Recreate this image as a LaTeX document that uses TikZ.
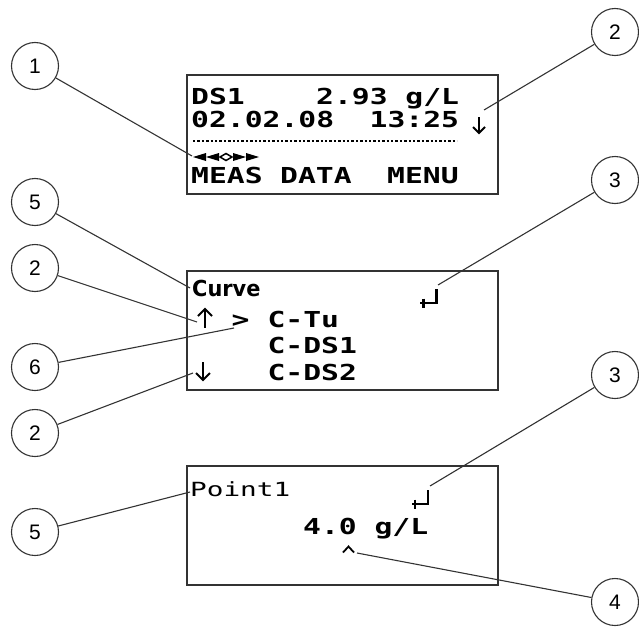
\documentclass[tikz,border=0pt]{standalone}
\usepackage{fontspec}
\setmainfont{Liberation Sans}
\newfontfamily\lcdfont[FakeStretch=1.35]{DejaVu Sans Mono}
\newfontfamily\lcdsmallfont[FakeStretch=1.42]{DejaVu Sans Mono}
\newfontfamily\lcdboldfont[FakeStretch=0.95]{DejaVu Sans}
\definecolor{linegray}{HTML}{333333}
\begin{document}
\begin{tikzpicture}[x=1pt,y=-1pt,
  frame/.style={draw=linegray,line width=1.5pt},
  callout/.style={circle,draw=linegray,line width=1.1pt,minimum size=47pt,inner sep=0pt,
    font=\fontsize{21}{21}\selectfont},
  leader/.style={draw=linegray,line width=1.1pt},
  lcd/.style={anchor=base west,inner sep=0pt,font=\lcdfont\bfseries\fontsize{22}{24}\selectfont},
  lcdc/.style={anchor=base,inner sep=0pt,font=\lcdfont\bfseries\fontsize{22}{24}\selectfont},
  lcdsmall/.style={anchor=base west,inner sep=0pt,font=\lcdsmallfont\fontsize{19.5}{22}\selectfont},
  lcdbold/.style={anchor=base west,inner sep=0pt,font=\lcdboldfont\bfseries\fontsize{22}{24}\selectfont},
  glyph/.style={line width=2.6pt,line cap=butt,line join=miter},
  arr/.style={line width=2pt,line cap=butt,line join=miter}]
\useasboundingbox (0,0) rectangle (639,626);

% ---------- display frames ----------
\draw[frame] (187,75) rectangle (498,194);
\draw[frame] (187,271) rectangle (498,390);
\draw[frame] (187,466) rectangle (498,585);

% ---------- display 1 ----------
\node[lcd] (ds1) at (191,104) {DS1};
\node[lcd] (val1) at (316,104) {2.93};
\node[lcd] (unit1) at (405.2,104) {g/L};
\node[lcd] (date) at (191,127) {02.02.08};
\node[lcd] (time) at (369.5,127) {13:25};
% down arrow
\draw[arr] (479,117) -- (479,133);
\draw[arr] (473,127) -- (479,133) -- (485,127);
\draw[line width=2.4pt,dash pattern=on 2.4pt off 2pt] (193,141) -- (457,141);
% soft-key marker
\fill (193,157) -- (206,153) -- (206,161) -- cycle;
\fill (206,157) -- (219,153) -- (219,161) -- cycle;
\draw[fill=white,line width=1.5pt] (220,157) -- (226,153.5) -- (232,157) -- (226,160.5) -- cycle;
\fill (246,157) -- (233,153) -- (233,161) -- cycle;
\fill (259,157) -- (246,153) -- (246,161) -- cycle;
\node[lcd] (meas) at (191,183) {MEAS};
\node[lcd] (data) at (280,183) {DATA};
\node[lcd] (menu) at (387,183) {MENU};

% ---------- display 2 ----------
\node[lcdbold] (curve) at (192,296) {Curve};
% up arrow
\draw[arr] (205,309) -- (205,328);
\draw[arr] (198,316) -- (205,309) -- (212,316);
\node[lcdc] (sel2) at (240.6,327) {>};
\node[lcd] (ctu) at (267.4,327) {C-Tu};
\node[lcd] (cds1) at (267.4,353) {C-DS1};
% down arrow
\draw[arr] (203,362) -- (203,380);
\draw[arr] (196,373) -- (203,380) -- (210,373);
\node[lcd] (cds2) at (267.4,380) {C-DS2};
\draw[glyph] (436.5,289) -- (436.5,303) -- (420,303);
\draw[glyph] (423.5,298.5) -- (423.5,307.5);

% ---------- display 3 ----------
\node[lcdsmall] (point) at (190,496) {Point1};
\node[lcd] (val3) at (303,534) {4.0};
\node[lcd] (unit3) at (374.4,534) {g/L};
\draw[glyph] (428,490) -- (428,504) -- (412,504);
\draw[glyph] (415,499.5) -- (415,508.5);
\draw[line width=1.8pt] (343,552.5) -- (348.5,546.5) -- (354,552.5);

% ---------- leader end points ----------
\coordinate (t1) at (192,156);
\coordinate (t2a) at (484,110);
\coordinate (t5a) at (190,288);
\coordinate (t3a) at (438,285);
\coordinate (t2b) at (197,322);
\coordinate (t6) at (234,328);
\coordinate (t2c) at (193,373);
\coordinate (t3b) at (430,486);
\coordinate (t5b) at (190,492);
\coordinate (t4) at (357,553);

% ---------- callouts ----------
\node[callout] (c1) at (35,66) {1};
\node[callout] (c2a) at (615,32) {2};
\node[callout] (c5a) at (35,202) {5};
\node[callout] (c3a) at (615,180) {3};
\node[callout] (c2b) at (35,268) {2};
\node[callout] (c6) at (35,367) {6};
\node[callout] (c2c) at (35,433) {2};
\node[callout] (c3b) at (615,375) {3};
\node[callout] (c5b) at (35,532) {5};
\node[callout] (c4) at (615,602) {4};

\draw[leader] (c1) -- (t1);
\draw[leader] (c2a) -- (t2a);
\draw[leader] (c5a) -- (t5a);
\draw[leader] (c3a) -- (t3a);
\draw[leader] (c2b) -- (t2b);
\draw[leader] (c6) -- (t6);
\draw[leader] (c2c) -- (t2c);
\draw[leader] (c3b) -- (t3b);
\draw[leader] (c5b) -- (t5b);
\draw[leader] (c4) -- (t4);
\end{tikzpicture}
\end{document}
